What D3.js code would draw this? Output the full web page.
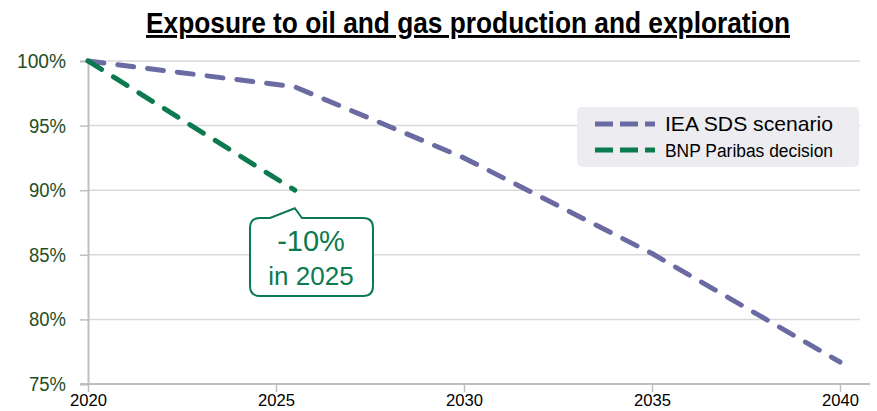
<!DOCTYPE html>
<html lang="en">
<head>
<meta charset="UTF-8">
<title>Exposure to oil and gas production and exploration</title>
<style>
    body { margin: 0; background: #fff; }
    svg { display: block; }
    .narrow { font-family: "Liberation Sans Narrow", "Arial Narrow", "Liberation Sans", sans-serif; }
    .sans { font-family: "Liberation Sans", Arial, sans-serif; }
</style>
</head>
<body>
<svg id="chart" width="877" height="411"></svg>
<script src="https://cdnjs.cloudflare.com/ajax/libs/d3/7.8.5/d3.min.js"></script>
<script>
// data
var ieaYears = [2020, 2025.5, 2030, 2035, 2040];
var ieaValues = [100, 98, 92.5, 85.1, 76.7];
var bnpYears = [2020, 2025.5];
var bnpValues = [100, 90];
var xTicks = [2020, 2025, 2030, 2035, 2040];
var yTicks = [75, 80, 85, 90, 95, 100];
var seriesNames = ["IEA SDS scenario", "BNP Paribas decision"];

var purple = "#6b6ba4", green = "#0c7a4f";

var svg = d3.select("#chart");

var x = d3.scaleLinear().domain([2020, 2040]).range([88, 840]);
var y = d3.scaleLinear().domain([75, 100]).range([384, 61]);

// title (narrow bold look)
svg.append("text")
    .attr("class", "narrow")
    .attr("x", 468).attr("y", 33)
    .attr("text-anchor", "middle")
    .attr("textLength", 644).attr("lengthAdjust", "spacingAndGlyphs")
    .style("font-size", "29px").style("font-weight", "bold")
    .style("text-decoration", "underline")
    .text("Exposure to oil and gas production and exploration");

// gridlines
svg.append("g").selectAll("line")
    .data(yTicks.filter(function(d) { return d > 75; }))
    .enter().append("line")
    .attr("x1", 88).attr("x2", 860)
    .attr("y1", function(d) { return y(d); })
    .attr("y2", function(d) { return y(d); })
    .attr("stroke", "#d9d9d9").attr("stroke-width", 1.5);

// y axis
var yAxis = svg.append("g")
    .attr("transform", "translate(88,0)")
    .call(d3.axisLeft(y).tickValues(yTicks).tickSize(8).tickPadding(14)
        .tickFormat(function(d) { return d + "%"; }));
yAxis.select(".domain").attr("stroke", "#bfbfbf").attr("stroke-width", 2);
yAxis.selectAll(".tick line").attr("stroke", "#bfbfbf").attr("stroke-width", 1.5);
yAxis.selectAll("text").attr("class", "sans")
    .style("font-size", "20px").attr("fill", "#1f4e1f")
    .attr("textLength", 49).attr("lengthAdjust", "spacingAndGlyphs");
yAxis.selectAll("text").filter(function(d) { return d < 100; })
    .attr("textLength", 37);

// x axis
var xAxis = svg.append("g")
    .attr("transform", "translate(0,384)")
    .call(d3.axisBottom(x).tickValues(xTicks).tickSize(8).tickPadding(3)
        .tickFormat(d3.format("d")));
xAxis.select(".domain").attr("d", "M80,0H870").attr("stroke", "#bfbfbf").attr("stroke-width", 2);
xAxis.selectAll(".tick line").attr("stroke", "#bfbfbf").attr("stroke-width", 1.5);
xAxis.selectAll("text").attr("class", "narrow")
    .style("font-size", "16px").attr("fill", "#000")
    .attr("textLength", 37).attr("lengthAdjust", "spacingAndGlyphs");

// lines
var ieaLine = d3.line()
    .x(function(d, i) { return x(ieaYears[i]); })
    .y(function(d) { return y(d); });
var bnpLine = d3.line()
    .x(function(d, i) { return x(bnpYears[i]); })
    .y(function(d) { return y(d); });

svg.append("path")
    .attr("d", ieaLine(ieaValues))
    .attr("fill", "none").attr("stroke", purple)
    .attr("stroke-width", 5).attr("stroke-linejoin", "round")
    .attr("stroke-linecap", "round")
    .attr("stroke-dasharray", "16,14");

svg.append("path")
    .attr("d", bnpLine(bnpValues))
    .attr("fill", "none").attr("stroke", green)
    .attr("stroke-width", 5).attr("stroke-linecap", "round")
    .attr("stroke-dasharray", "16,14");

// legend
var lg = svg.append("g").attr("transform", "translate(577,107)");
lg.append("rect").attr("width", 282).attr("height", 60).attr("rx", 5)
    .attr("fill", "#ececf1");
var legendColors = [purple, green];
var legendSizes = ["21px", "18px"];
seriesNames.forEach(function(name, i) {
    var yy = 17 + i * 26;
    lg.append("line")
        .attr("x1", 18).attr("x2", 78).attr("y1", yy).attr("y2", yy)
        .attr("stroke", legendColors[i]).attr("stroke-width", 5)
        .attr("stroke-dasharray", "18,7");
    lg.append("text").attr("class", "sans")
        .attr("x", 88).attr("y", yy + 7)
        .attr("textLength", 168).attr("lengthAdjust", "spacingAndGlyphs")
        .style("font-size", legendSizes[i]).attr("fill", "#000")
        .text(name);
});

// callout
var cx = x(bnpYears[1]), cy = y(bnpValues[1]);
var callout = svg.append("g");
var bx0 = 250, bx1 = 373, by0 = 218, by1 = 296, r = 10;
callout.append("path")
    .attr("d", "M" + (bx0 + r) + "," + by0 +
        "L270," + by0 + "L" + cx + "," + (cy + 18) + "L302," + by0 +
        "L" + (bx1 - r) + "," + by0 +
        "Q" + bx1 + "," + by0 + " " + bx1 + "," + (by0 + r) +
        "L" + bx1 + "," + (by1 - r) +
        "Q" + bx1 + "," + by1 + " " + (bx1 - r) + "," + by1 +
        "L" + (bx0 + r) + "," + by1 +
        "Q" + bx0 + "," + by1 + " " + bx0 + "," + (by1 - r) +
        "L" + bx0 + "," + (by0 + r) +
        "Q" + bx0 + "," + by0 + " " + (bx0 + r) + "," + by0 + "Z")
    .attr("fill", "#fff").attr("stroke", green).attr("stroke-width", 2);
callout.append("text").attr("class", "sans")
    .attr("x", 311).attr("y", 251).attr("text-anchor", "middle")
    .style("font-size", "29px").attr("fill", green).text("-10%");
callout.append("text").attr("class", "sans")
    .attr("x", 311).attr("y", 285).attr("text-anchor", "middle")
    .style("font-size", "26px").attr("fill", green).text("in 2025");
</script>
</body>
</html>
